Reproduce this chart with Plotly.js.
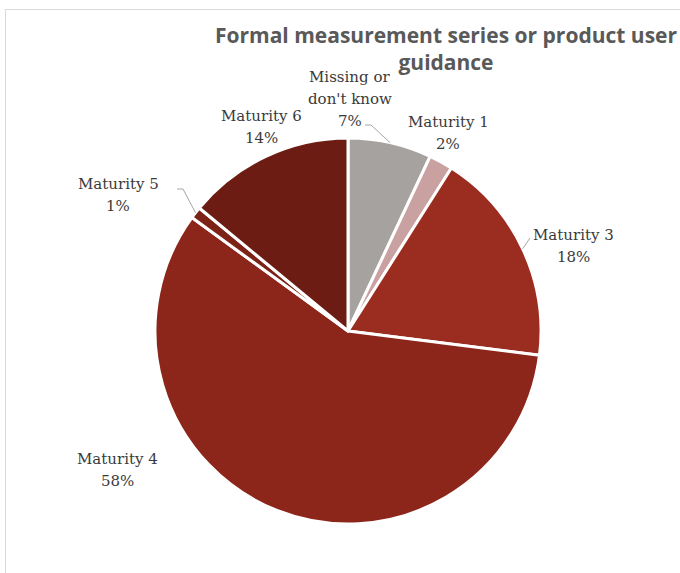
<!DOCTYPE html>
<html>
<head>
<meta charset="utf-8">
<script src="https://cdn.plot.ly/plotly-3.0.1.min.js"></script>
<style>html,body{margin:0;padding:0;background:#fff;}#chart{width:680px;height:573px;}</style>
</head>
<body>
<div id="chart"></div>
<script>
// ---- data ----
const categories = ["Missing or don't know", "Maturity 1", "Maturity 3", "Maturity 4", "Maturity 5", "Maturity 6"];
const labelLines = [["Missing or", "don't know"], ["Maturity 1"], ["Maturity 3"], ["Maturity 4"], ["Maturity 5"], ["Maturity 6"]];
const values = [7, 2, 18, 58, 1, 14];
const colors = ["#a6a2a0", "#c9a1a1", "#9b2d20", "#8c251a", "#7d2217", "#6d1c14"];
const chartTitle = "Formal measurement series or product user<br>guidance";

// ---- layout helpers (pixel -> paper) ----
const W = 680, H = 573;
const xp = px => px / W;
const yp = py => 1 - py / H;

// pie geometry
const cx = 348, cy = 331, R = 193;
const domain = {x: [xp(cx - R), xp(cx + R)], y: [yp(cy + R), yp(cy - R)]};

// manual label positions (pixel centres of the label block), like Excel's dragged labels
const labelPos = [[350, 99], [448, 133], [573, 246], [117, 470], [118, 195], [261, 127]];
const lineGap = 22;
// leader lines: start point near the label and elbow x
const leaders = {0: [365, 125, 371], 2: [530, 238, 530], 4: [177, 189, 183]};

const total = values.reduce((a, b) => a + b, 0);
const annotations = [];
const shapes = [];
let cum = 0;
values.forEach((v, i) => {
  const mid = (cum + v / 2) / total * 2 * Math.PI;
  cum += v;
  const pct = Math.round(v / total * 100) + "%";
  const lines = labelLines[i].concat([pct]);
  const n = lines.length;
  lines.forEach((t, k) => {
    annotations.push({
      xref: "paper", yref: "paper",
      x: xp(labelPos[i][0]), y: yp(labelPos[i][1] + (k - (n - 1) / 2) * lineGap),
      xanchor: "center", yanchor: "middle",
      text: t,
      showarrow: false,
      font: {family: "DejaVu Serif", size: 15, color: "#3a3a3a"}
    });
  });
  if (leaders[i]) {
    const ex = cx + R * Math.sin(mid), ey = cy - R * Math.cos(mid);
    const [sx, sy, kx] = leaders[i];
    shapes.push({type: "path", xref: "paper", yref: "paper",
      path: `M ${xp(sx)} ${yp(sy)} L ${xp(kx)} ${yp(sy)} L ${xp(ex)} ${yp(ey)}`,
      line: {color: "#a6a6a6", width: 1}});
  }
});

// chart-area border (cropped on the right and bottom)
shapes.push({type: "rect", xref: "paper", yref: "paper",
  x0: xp(5.5), x1: xp(700), y0: yp(600), y1: yp(9.5),
  line: {color: "#d9d9d9", width: 1}, layer: "below"});

const trace = {
  type: "pie",
  labels: categories,
  values: values,
  sort: false,
  direction: "clockwise",
  rotation: 0,
  textinfo: "none",
  hoverinfo: "label+percent",
  marker: {colors: colors, line: {color: "#ffffff", width: 3}},
  domain: domain,
  showlegend: false
};

const layout = {
  width: W, height: H,
  margin: {l: 0, r: 0, t: 0, b: 0},
  paper_bgcolor: "#ffffff",
  title: {
    text: chartTitle,
    x: xp(446), xanchor: "center", xref: "paper",
    y: 1 - 43 / H, yanchor: "top", yref: "container",
    font: {family: "Open Sans", size: 21, weight: 700, color: "#595959"}
  },
  annotations: annotations,
  shapes: shapes,
  showlegend: false
};

Plotly.newPlot("chart", [trace], layout, {displayModeBar: false, staticPlot: true});
</script>
</body>
</html>
